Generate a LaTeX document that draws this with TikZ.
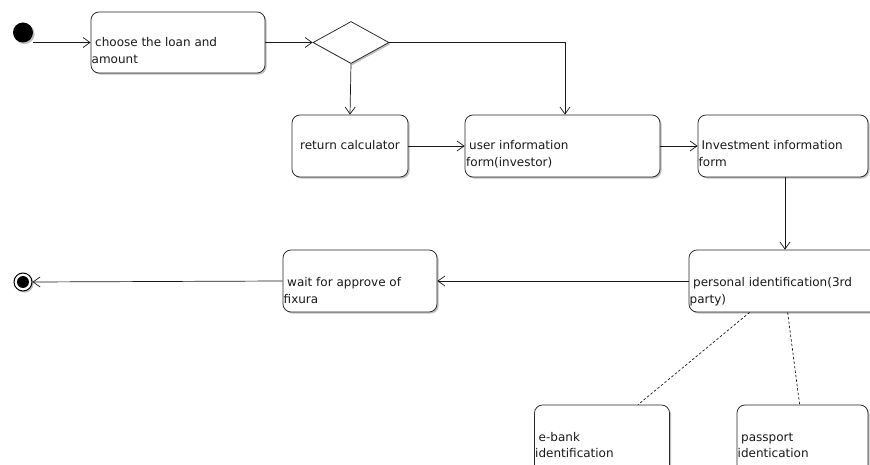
\documentclass[tikz,border=0pt]{standalone}
\usepackage{fontspec}
\setmainfont{DejaVu Sans}
\usetikzlibrary{arrows.meta,shapes.geometric,shadows}

\tikzset{
  shade/.style={drop shadow={shadow xshift=1.6pt, shadow yshift=-1.6pt, opacity=.45, fill=black!55}},
  act/.style={draw=black!85, line width=0.75pt, fill=white, rounded corners=8pt,
              inner sep=0pt, shade},
  choice/.style={draw=black!85, line width=0.75pt, fill=white, diamond, inner sep=0pt,
                 minimum width=76pt, minimum height=42pt, shade},
  lbl/.style={inner sep=0pt, anchor=base west, text=black!90,
              font=\fontsize{12}{17}\selectfont},
  flow/.style={draw=black!90, line width=0.7pt,
               -{Straight Barb[length=7pt,width=10pt,line width=0.7pt]}},
  link/.style={draw=black!90, line width=0.7pt, dashed, dash pattern=on 2.5pt off 2pt},
}

\begin{document}
\begin{tikzpicture}[x=1pt,y=-1pt]
  \useasboundingbox (0,0) rectangle (870,465);
  \clip (0,0) rectangle (870,465);
  \fill[white] (0,0) rectangle (870,465);

  % initial and final states
  \node[circle, fill=black, minimum size=20pt, inner sep=0pt, shade] (start) at (23,32.5) {};
  \node[circle, draw=black, line width=1pt, fill=white, minimum size=18pt, inner sep=0pt, shade] (stop) at (23,282) {};
  \node[circle, fill=black, minimum size=12pt, inner sep=0pt] (stopdot) at (stop.center) {};

  % activities
  \node[act, minimum width=174pt, minimum height=61pt] (loan) at (178,42.5) {};
  \node[choice] (dec) at (351,42.5) {};
  \node[act, minimum width=116pt, minimum height=62pt] (calc) at (350,146) {};
  \node[act, minimum width=195pt, minimum height=62pt] (user) at (562.5,146) {};
  \node[act, minimum width=170pt, minimum height=62pt] (inv) at (783,146) {};
  \node[act, minimum width=240pt, minimum height=62pt] (pid) at (809,281) {};
  \node[act, minimum width=154pt, minimum height=62pt] (wait) at (360,281) {};
  \node[act, minimum width=135pt, minimum height=90pt] (ebank) at (602,450) {};
  \node[act, minimum width=131pt, minimum height=90pt] (pass) at (802.5,450) {};

  % texts
  \node[lbl] (t1a) at (95,47) {choose the loan and};
  \node[lbl] (t1b) at (91.5,64) {amount};
  \node[lbl, anchor=base] (t2) at (350,150) {return calculator};
  \node[lbl] (t3a) at (469,150) {user information};
  \node[lbl] (t3b) at (466,167) {form(investor)};
  \node[lbl] (t4a) at (701.5,150) {Investment information};
  \node[lbl] (t4b) at (698.5,167) {form};
  \node[lbl] (t5a) at (693,286) {personal identification(3rd};
  \node[lbl] (t5b) at (689.5,303) {party)};
  \node[lbl] (t6a) at (287,286) {wait for approve of};
  \node[lbl] (t6b) at (283.5,303) {fixura};
  \node[lbl] (t7a) at (538.5,441) {e-bank};
  \node[lbl] (t7b) at (535,457) {identification};
  \node[lbl] (t8a) at (741,441) {passport};
  \node[lbl] (t8b) at (737.5,457) {identication};

  % control flow
  \draw[flow] (start.east |- loan.west) -- (loan.west);
  \draw[flow] (loan.east) -- (dec.west);
  \draw[flow] (dec.south) -- (calc.north);
  \draw[flow] (dec.east) -| ([xshift=2.5pt]user.north);
  \draw[flow] (calc.east) -- (user.west);
  \draw[flow] (user.east) -- (inv.west);
  \draw[flow] ([xshift=2pt]inv.south) -- ([xshift=2pt]inv.south |- pid.north);
  \draw[flow] (pid.west) -- (wait.east);
  \draw[flow] (wait.west) -- (stop.east);

  % identification options
  \draw[link] ([xshift=61pt]pid.south west) -- ([xshift=104pt]ebank.north west);
  \draw[link] ([xshift=99pt]pid.south west) -- ([xshift=63pt]pass.north west);
\end{tikzpicture}
\end{document}
